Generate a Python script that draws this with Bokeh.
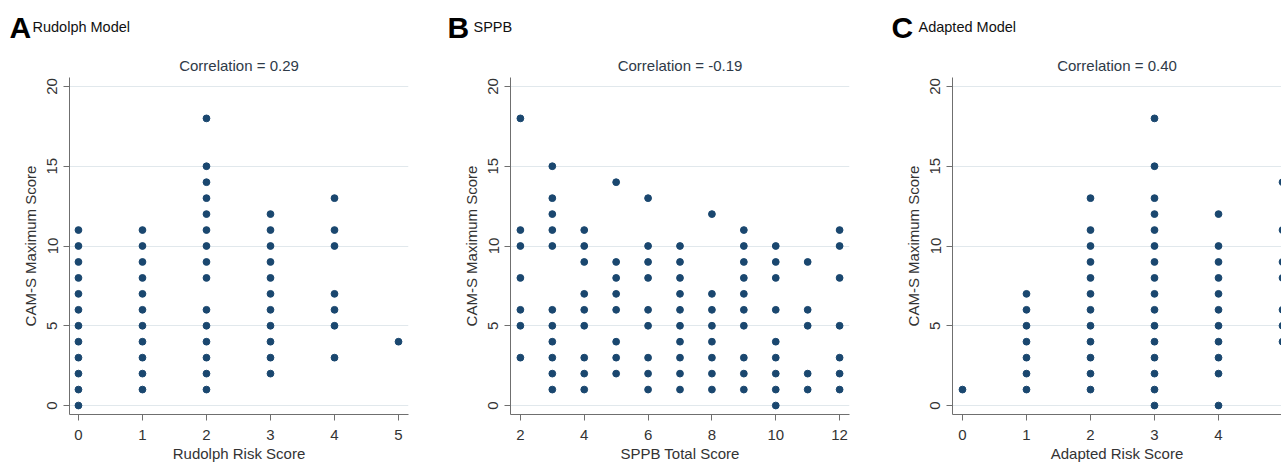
from bokeh.plotting import figure
from bokeh.layouts import row, column
from bokeh.models import Range1d, FixedTicker
from bokeh.core.properties import value
from bokeh.embed import file_html
from bokeh.resources import INLINE

# ---------------- data ----------------
rudolph_scores = [0, 1, 2, 3, 4, 5]
rudolph_cam = [
    [0, 1, 2, 3, 4, 5, 6, 7, 8, 9, 10, 11],
    [1, 2, 3, 4, 5, 6, 7, 8, 9, 10, 11],
    [1, 2, 3, 4, 5, 6, 8, 9, 10, 11, 12, 13, 14, 15, 18],
    [2, 3, 4, 5, 6, 7, 8, 9, 10, 11, 12],
    [3, 5, 6, 7, 10, 11, 13],
    [4],
]

sppb_scores = [2, 3, 4, 5, 6, 7, 8, 9, 10, 11, 12]
sppb_cam = [
    [3, 5, 6, 8, 10, 11, 18],
    [1, 2, 3, 4, 5, 6, 10, 11, 12, 13, 15],
    [1, 2, 3, 5, 6, 7, 9, 10, 11],
    [2, 3, 4, 6, 7, 8, 9, 14],
    [1, 2, 3, 5, 6, 8, 9, 10, 13],
    [1, 2, 3, 4, 5, 6, 7, 8, 9, 10],
    [1, 2, 3, 4, 5, 6, 7, 12],
    [1, 2, 3, 5, 6, 7, 8, 9, 10, 11],
    [0, 1, 2, 3, 4, 6, 8, 9, 10],
    [1, 2, 5, 6, 9],
    [1, 2, 3, 5, 8, 10, 11],
]

adapted_scores = [0, 1, 2, 3, 4, 5]
adapted_cam = [
    [1],
    [1, 2, 3, 4, 5, 6, 7],
    [1, 2, 3, 4, 5, 6, 7, 8, 9, 10, 11, 13],
    [0, 1, 2, 3, 4, 5, 6, 7, 8, 9, 10, 11, 12, 13, 15, 18],
    [0, 2, 3, 4, 5, 6, 7, 8, 9, 10, 12],
    [4, 5, 6, 8, 9, 11, 14],
]

panel_letters = ["A", "B", "C"]
panel_names = ["Rudolph Model", "SPPB", "Adapted Model"]
correlations = ["Correlation = 0.29", "Correlation = -0.19", "Correlation = 0.40"]
x_titles = ["Rudolph Risk Score", "SPPB Total Score", "Adapted Risk Score"]
y_title = "CAM-S Maximum Score"
y_ticks = [0, 5, 10, 15, 20]

# ---------------- style ----------------
FONT = "Liberation Sans"
DOT = "#1a476f"
GRID = "#e1e8ec"
AXIS = "#6f6f6f"
TXT = "#333333"
TITLE_TXT = "#2e3a48"

HEADER_H = 44
PLOT_H = 420
TOTAL_W = 1281


def flatten(scores, groups):
    xs, ys = [], []
    for s, g in zip(scores, groups):
        for v in g:
            xs.append(s)
            ys.append(v)
    return xs, ys


def make_panel(scores, groups, xr, xticks, title, xlabel, width, mbl, mbr, title_offset=0):
    p = figure(width=width, height=PLOT_H, output_backend="svg", toolbar_location=None,
               x_range=Range1d(*xr), y_range=Range1d(-0.5625, 20.5625),
               min_border_left=mbl, min_border_right=mbr, min_border_top=33,
               min_border_bottom=49)
    p.outline_line_color = None
    p.background_fill_color = "white"
    p.border_fill_color = "white"

    p.title.text = title
    p.title.align = "center"
    p.title.text_font = FONT
    p.title.text_font_size = "15px"
    p.title.text_font_style = "normal"
    p.title.text_color = TITLE_TXT
    p.title.standoff = 8
    p.title.offset = title_offset

    xs, ys = flatten(scores, groups)
    p.scatter(xs, ys, size=6.8, fill_color=DOT, line_color=DOT)

    p.xgrid.visible = False
    p.ygrid.grid_line_color = GRID
    p.ygrid.grid_line_width = 1

    for ax in (p.xaxis[0], p.yaxis[0]):
        ax.axis_line_color = AXIS
        ax.axis_line_width = 1
        ax.major_tick_line_color = AXIS
        ax.major_tick_out = 6
        ax.major_tick_in = 0
        ax.minor_tick_out = 0
        ax.minor_tick_in = 0
        ax.major_label_text_font = FONT
        ax.major_label_text_font_size = "15px"
        ax.major_label_text_color = TXT
        ax.axis_label_text_font = FONT
        ax.axis_label_text_font_size = "15px"
        ax.axis_label_text_font_style = "normal"
        ax.axis_label_text_color = TXT

    p.xaxis.ticker = FixedTicker(ticks=xticks)
    p.xaxis.axis_label = xlabel
    p.xaxis.major_label_standoff = 9
    p.xaxis.axis_label_standoff = 2

    p.yaxis.ticker = FixedTicker(ticks=y_ticks)
    p.yaxis.axis_label = y_title
    p.yaxis.major_label_orientation = "vertical"
    p.yaxis.major_label_standoff = 6
    p.yaxis.axis_label_standoff = 6
    return p


# header strip: its ranges are the strip's own pixels
header = figure(width=TOTAL_W, height=HEADER_H, output_backend="svg", toolbar_location=None,
                title=None, x_axis_location=None, y_axis_location=None,
                x_range=Range1d(0, TOTAL_W), y_range=Range1d(HEADER_H, 0),
                min_border=0)
header.grid.visible = False
header.outline_line_color = None
letter_x = [9, 447, 891]
name_x = [32, 473, 918]
header.text(x=letter_x, y=[27, 27, 27], text=panel_letters,
            text_font=value(FONT), text_font_size="30px", text_font_style="bold",
            text_color="black", text_baseline="middle", text_align="left")
header.text(x=name_x, y=[26.5, 26.5, 26.5], text=panel_names,
            text_font=value(FONT), text_font_size="14.5px", text_font_style="normal",
            text_color="#111111", text_baseline="middle", text_align="left")

pA = make_panel(rudolph_scores, rudolph_cam, (-0.14, 5.156), rudolph_scores,
                correlations[0], x_titles[0], 430, 69, 22)
pB = make_panel(sppb_scores, sppb_cam, (1.69, 12.31), [2, 4, 6, 8, 10, 12],
                correlations[1], x_titles[1], 430, 80, 11)
pC = make_panel(adapted_scores, adapted_cam, (-0.156, 4.984), adapted_scores,
                correlations[2], x_titles[2], 421, 92, 0, title_offset=3)

layout = column(header, row(pA, pB, pC, spacing=0), spacing=0)

open("out.html", "w").write(file_html(layout, INLINE))
